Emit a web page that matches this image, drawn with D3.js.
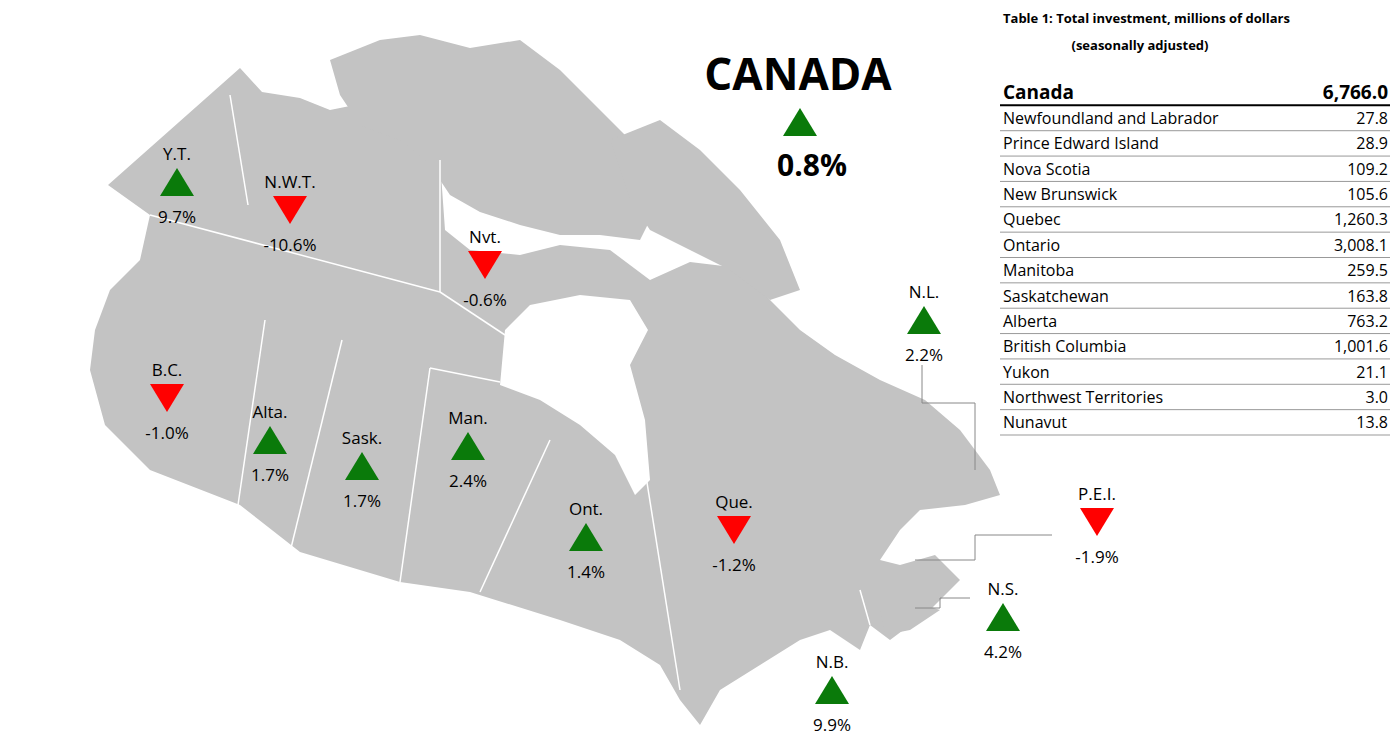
<!DOCTYPE html><html><head><meta charset="utf-8"><script src="https://cdn.jsdelivr.net/npm/d3@7"></script>
<style>body{margin:0;background:#fff}text{font-family:"Open Sans",Arial,sans-serif}</style></head><body>
<svg id="c" width="1392" height="742"></svg>
<script>
const regions=["Y.T.","N.W.T.","Nvt.","B.C.","Alta.","Sask.","Man.","Ont.","Que.","N.L.","P.E.I.","N.S.","N.B."];
const changes=[9.7,-10.6,-0.6,-1.0,1.7,1.7,2.4,1.4,-1.2,2.2,-1.9,4.2,9.9];
const canadaChange=0.8;
const tableNames=["Newfoundland and Labrador","Prince Edward Island","Nova Scotia","New Brunswick","Quebec","Ontario","Manitoba","Saskatchewan","Alberta","British Columbia","Yukon","Northwest Territories","Nunavut"];
const tableValues=[27.8,28.9,109.2,105.6,1260.3,3008.1,259.5,163.8,763.2,1001.6,21.1,3.0,13.8];
const canadaTotal=6766.0;
// layout (label anchor positions)
const labelPos=[[177,182],[290,210],[485,265],[167,398],[270,440],[362,466],[468,446],[586,537],[734,530],[924,320],[1097,522],[1003,617],[832,690]];
const svg=d3.select("#c");
const line=d3.line().curve(d3.curveLinearClosed);
const grey="#c3c3c3";
const shapes=[
 [[108,185],[240,68],[262,92],[300,98],[330,110],[380,100],[420,125],[440,160],[445,230],[470,250],[520,255],[560,245],[610,250],[650,280],[690,262],[740,268],[770,300],[800,330],[835,355],[880,380],[925,400],[960,430],[990,470],[1000,495],[965,505],[920,510],[900,530],[880,560],[900,565],[935,555],[960,580],[930,610],[890,640],[870,625],[860,650],[830,630],[800,640],[760,665],[720,690],[700,725],[680,700],[660,665],[620,640],[560,620],[470,592],[400,582],[300,552],[240,505],[150,470],[105,425],[90,370],[95,330],[110,290],[140,260],[150,215]],
 [[330,60],[380,40],[420,35],[470,48],[520,40],[560,70],[600,110],[640,150],[660,200],[640,240],[600,235],[560,235],[520,225],[480,212],[450,195],[430,165],[400,140],[360,125],[340,95]],
 [[610,140],[660,120],[700,150],[740,190],[780,240],[800,290],[770,300],[730,270],[690,250],[650,230],[630,200]],
 [[880,610],[910,600],[940,610],[910,630],[885,635]]
];
shapes.forEach(s=>svg.append("path").attr("d",line(s)).attr("fill",grey));
const hudson=[[505,330],[530,305],[580,295],[630,300],[648,330],[630,365],[645,420],[650,480],[635,495],[615,455],[580,425],[540,400],[500,385]];
svg.append("path").attr("d",line(hudson)).attr("fill","#fff");
const borders=[[[150,215],[440,292]],[[230,95],[248,205]],[[440,160],[440,292]],[[265,320],[238,505]],[[342,340],[290,552]],[[430,368],[400,582]],[[440,292],[505,335]],[[430,368],[500,382]],[[550,440],[480,592]],[[645,470],[680,690]],[[860,590],[870,625]]];
borders.forEach(b=>svg.append("path").attr("d",d3.line()(b)).attr("stroke","#fff").attr("stroke-width",1.5).attr("fill","none"));
const leaders=[[[922,365],[922,403],[975,403],[975,470]],[[1052,535],[975,535],[975,560],[915,560]],[[970,598],[940,598],[940,608],[915,608]]];
leaders.forEach(b=>svg.append("path").attr("d",d3.line()(b)).attr("stroke","#888").attr("fill","none"));
const tri=(x,y,up)=>{const w=17,h=28;return up?`M${x-w},${y+h/2}L${x+w},${y+h/2}L${x},${y-h/2}Z`:`M${x-w},${y-h/2}L${x+w},${y-h/2}L${x},${y+h/2}Z`;};
const pct=v=>d3.format(".1f")(v).replace("\u2212","-")+"%";
regions.forEach((r,i)=>{const [x,y]=labelPos[i];const up=changes[i]>=0;
 svg.append("text").attr("x",x).attr("y",y-22).attr("text-anchor","middle").attr("font-size",17).text(r);
 svg.append("path").attr("d",tri(x,y,up)).attr("fill",up?"#0a7a0a":"#ff0000");
 svg.append("text").attr("x",x).attr("y",y+41).attr("text-anchor","middle").attr("font-size",17).text(pct(changes[i]));});
svg.append("text").attr("x",798).attr("y",90).attr("text-anchor","middle").attr("font-size",44).attr("font-weight","bold").text("CANADA");
svg.append("path").attr("d",tri(800,122,true)).attr("fill","#0a7a0a");
svg.append("text").attr("x",812).attr("y",176).attr("text-anchor","middle").attr("font-size",30).attr("font-weight","bold").text(pct(canadaChange));
svg.append("text").attr("x",1003).attr("y",23).attr("font-size",13).attr("font-weight","bold").attr("font-family","DejaVu Serif").text("Table 1: Total investment, millions of dollars");
svg.append("text").attr("x",1140).attr("y",50).attr("text-anchor","middle").attr("font-size",13).attr("font-weight","bold").attr("font-family","DejaVu Serif").text("(seasonally adjusted)");
const y=d3.scaleBand().domain(d3.range(14)).range([80,435]);
const fmt=d3.format(",.1f");
const rows=[["Canada",canadaTotal]].concat(tableNames.map((n,i)=>[n,tableValues[i]]));
rows.forEach((r,i)=>{const yy=y(i)+y.bandwidth()/2+6;const b=i==0;
 svg.append("text").attr("x",1003).attr("y",yy).attr("font-size",b?19:16).attr("font-weight",b?"bold":"normal").text(r[0]);
 svg.append("text").attr("x",1388).attr("y",yy).attr("text-anchor","end").attr("font-size",b?19:16).attr("font-weight",b?"bold":"normal").text(fmt(r[1]));
 svg.append("line").attr("x1",1000).attr("x2",1390).attr("y1",y(i)+y.bandwidth()).attr("y2",y(i)+y.bandwidth()).attr("stroke",b?"#000":"#999").attr("stroke-width",b?2:1);});
</script></body></html>
